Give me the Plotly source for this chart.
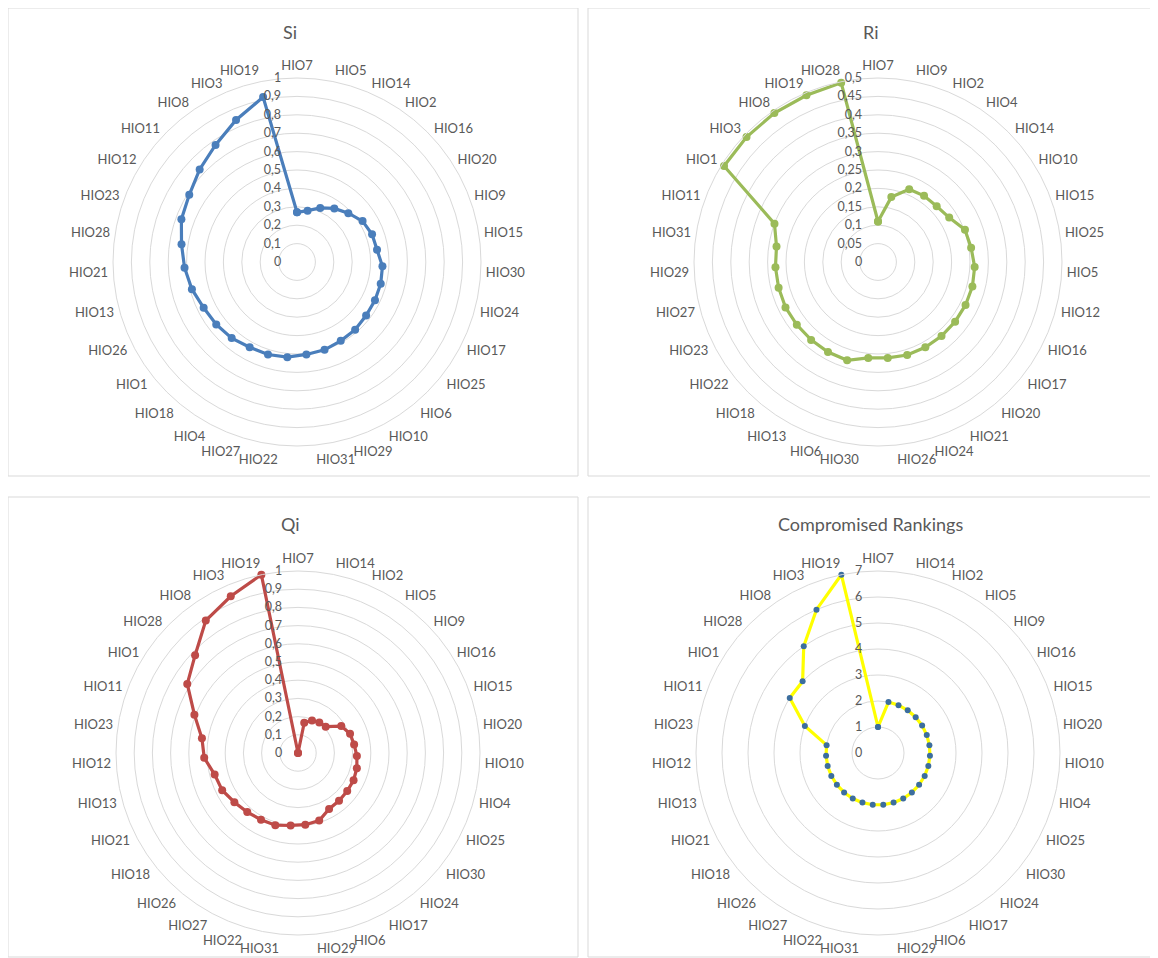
import plotly.graph_objects as go

# ---------------- data ----------------
si_cats = ["HIO7", "HIO5", "HIO14", "HIO2", "HIO16", "HIO20", "HIO9", "HIO15", "HIO30", "HIO24",
           "HIO17", "HIO25", "HIO6", "HIO10", "HIO29", "HIO31", "HIO22", "HIO27", "HIO4", "HIO18",
           "HIO1", "HIO26", "HIO13", "HIO21", "HIO28", "HIO23", "HIO12", "HIO11", "HIO8", "HIO3", "HIO19"]
si_vals = [0.27, 0.285, 0.32, 0.355, 0.385, 0.42, 0.435, 0.44, 0.465, 0.47,
           0.472, 0.475, 0.485, 0.49, 0.50, 0.505, 0.52, 0.527, 0.53, 0.545,
           0.555, 0.565, 0.59, 0.612, 0.635, 0.67, 0.69, 0.73, 0.775, 0.84, 0.915]

ri_cats = ["HIO7", "HIO9", "HIO2", "HIO4", "HIO14", "HIO10", "HIO15", "HIO25", "HIO5", "HIO12",
           "HIO16", "HIO17", "HIO20", "HIO21", "HIO24", "HIO26", "HIO30", "HIO6", "HIO13", "HIO18",
           "HIO22", "HIO23", "HIO27", "HIO29", "HIO31", "HIO11", "HIO1", "HIO3", "HIO8", "HIO19", "HIO28"]
ri_vals = [0.11, 0.18, 0.215, 0.219, 0.22, 0.228, 0.252, 0.256, 0.263, 0.265,
           0.265, 0.265, 0.265, 0.265, 0.265, 0.262, 0.262, 0.28, 0.28, 0.279,
           0.279, 0.28, 0.279, 0.279, 0.279, 0.30, 0.493, 0.493, 0.493, 0.493, 0.497]

qi_cats = ["HIO7", "HIO14", "HIO2", "HIO5", "HIO9", "HIO16", "HIO15", "HIO20", "HIO10", "HIO4",
           "HIO25", "HIO30", "HIO24", "HIO17", "HIO6", "HIO29", "HIO31", "HIO22", "HIO27", "HIO26",
           "HIO18", "HIO21", "HIO13", "HIO12", "HIO23", "HIO11", "HIO1", "HIO28", "HIO8", "HIO3", "HIO19"]
qi_vals = [0.0, 0.17, 0.195, 0.205, 0.21, 0.28, 0.305, 0.312, 0.324, 0.334,
           0.34, 0.342, 0.346, 0.352, 0.389, 0.396, 0.40, 0.416, 0.419, 0.428,
           0.442, 0.464, 0.473, 0.516, 0.534, 0.607, 0.717, 0.78, 0.887, 0.937, 1.0]

cr_cats = qi_cats
cr_vals = [1, 2, 2, 2, 2, 2, 2, 2, 2, 2,
           2, 2, 2, 2, 2, 2, 2, 2, 2, 2,
           2, 2, 2, 2, 2, 3, 4, 4, 5, 6, 7]

si_ticks = [0, 0.1, 0.2, 0.3, 0.4, 0.5, 0.6, 0.7, 0.8, 0.9, 1]
ri_ticks = [0, 0.05, 0.1, 0.15, 0.2, 0.25, 0.3, 0.35, 0.4, 0.45, 0.5]
qi_ticks = [0, 0.1, 0.2, 0.3, 0.4, 0.5, 0.6, 0.7, 0.8, 0.9, 1]
cr_ticks = [0, 1, 2, 3, 4, 5, 6, 7]

titles = ["Si", "Ri", "Qi", "Compromised Rankings"]

# ---------------- figure ----------------
OFF = 8                 # page body margin
W, H = 1158 - OFF, 958 - OFF
TXT = "#595959"
GRID = "#D9D9D9"
FONT = "Lato, Open Sans, sans-serif"


def fmt(v):
    return ("%g" % v).replace(".", ",")


def px(X):
    return (X - OFF) / W


def py(Y):
    return 1 - (Y - OFF) / H


def dom(cx, cy, r):
    return dict(x=[px(cx - r), px(cx + r)], y=[py(cy + r), py(cy - r)])


panels = [
    (si_cats, si_vals, si_ticks, "#4A7EBB", "#4A7EBB", 8, dom(297, 262, 184)),
    (ri_cats, ri_vals, ri_ticks, "#9BBB59", "#9BBB59", 8, dom(878, 262, 184)),
    (qi_cats, qi_vals, qi_ticks, "#BE4B48", "#BE4B48", 8, dom(298, 753, 182)),
    (cr_cats, cr_vals, cr_ticks, "#FFFF00", "#3C6E9E", 6, dom(878, 753, 182)),
]

fig = go.Figure()
layout = {}
for i, (cats, vals, ticks, lc, mc, ms, d) in enumerate(panels):
    pname = "polar" if i == 0 else "polar%d" % (i + 1)
    fig.add_trace(go.Scatterpolar(
        r=vals + [vals[0]], theta=cats + [cats[0]],
        mode="lines+markers",
        line=dict(color=lc, width=3.2),
        marker=dict(color=mc, size=ms),
        subplot=pname, showlegend=False, hoverinfo="r+theta"))
    layout[pname] = dict(
        domain=d,
        bgcolor="white",
        gridshape="circular",
        radialaxis=dict(range=[ticks[0], ticks[-1]], tickvals=ticks,
                        ticktext=[fmt(t) for t in ticks],
                        angle=90, tickangle=90, side="counterclockwise",
                        showline=False, ticks="outside", ticklen=11,
                        tickcolor="rgba(0,0,0,0)", gridcolor=GRID, gridwidth=1,
                        tickfont=dict(size=12.5, color=TXT, family=FONT)),
        angularaxis=dict(type="category", categoryarray=cats, direction="clockwise",
                         rotation=90, showgrid=False, showline=True, linecolor=GRID,
                         linewidth=1, ticks="outside", ticklen=2,
                         tickcolor="rgba(0,0,0,0)",
                         tickfont=dict(size=13, color=TXT, family=FONT)),
    )

fig.update_layout(**layout)

# panel borders
boxes = [(8, 8, 578, 476), (588, 8, 1157, 476), (8, 497, 578, 957), (588, 497, 1157, 957)]
shapes = []
for (x0, y0, x1, y1) in boxes:
    shapes.append(dict(type="rect", xref="paper", yref="paper",
                       x0=px(x0), x1=px(x1), y0=py(y1), y1=py(y0),
                       line=dict(color="#D9D9D9", width=1), layer="below"))

title_pos = [(290, 32), (870, 32), (290, 524), (870, 524)]
ann = []
for t, (x, y) in zip(titles, title_pos):
    ann.append(dict(text=t, x=px(x), y=py(y), xref="paper", yref="paper",
                    showarrow=False, xanchor="center", yanchor="middle",
                    font=dict(size=18, color=TXT, family=FONT)))

fig.update_layout(width=W, height=H, margin=dict(l=0, r=0, t=0, b=0),
                  paper_bgcolor="white", plot_bgcolor="white",
                  shapes=shapes, annotations=ann, showlegend=False,
                  font=dict(family=FONT, color=TXT))

fig.write_html("out.html")
